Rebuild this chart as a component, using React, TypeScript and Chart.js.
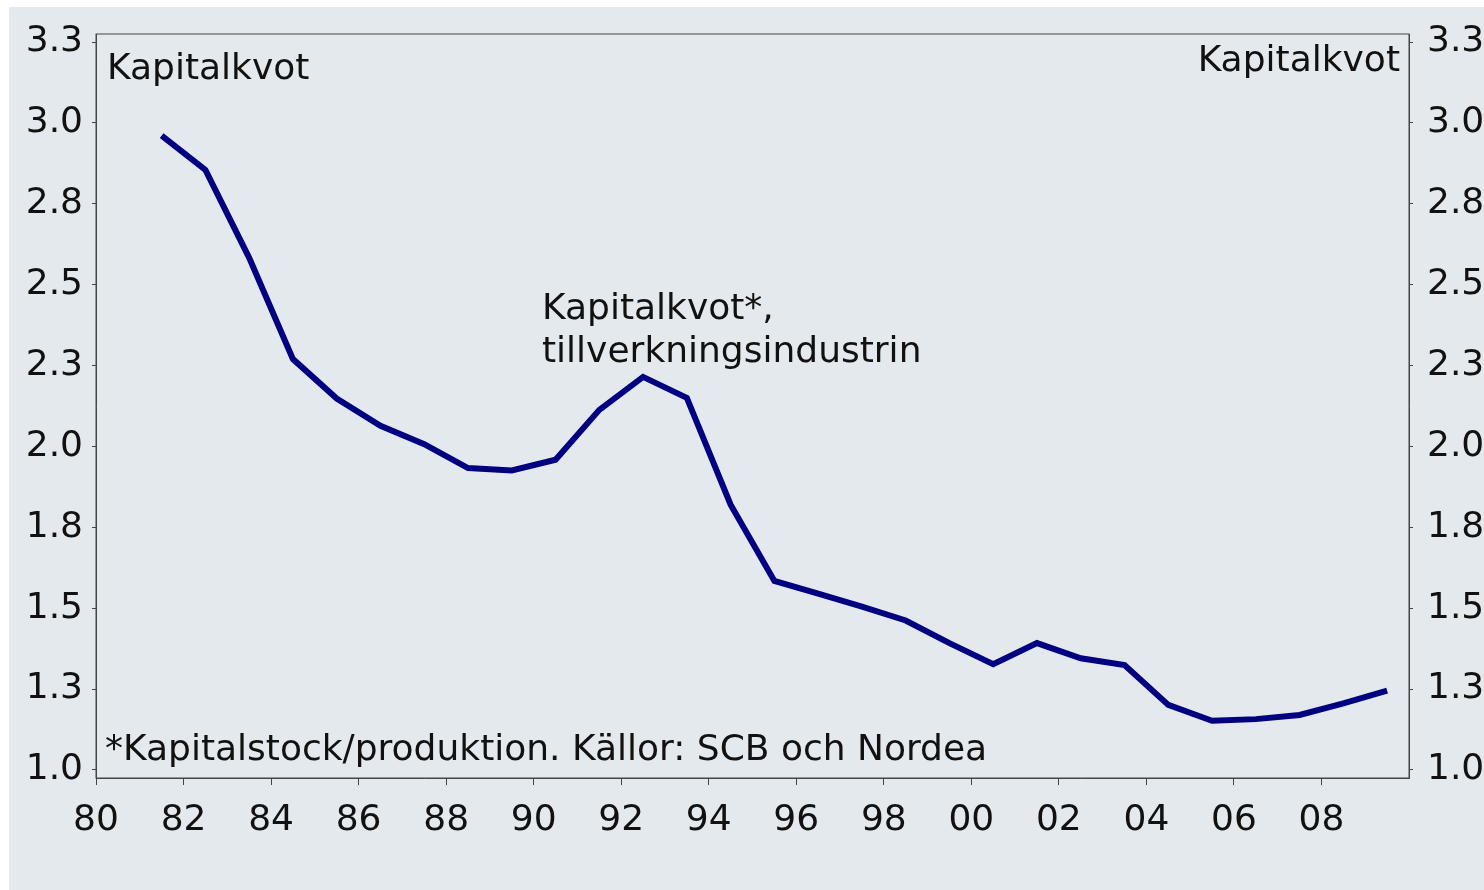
import React, { useEffect, useRef } from "react";
import { Chart, registerables } from "chart.js";

Chart.register(...registerables);

const years: number[] = [
  1981.5, 1982.5, 1983.5, 1984.5, 1985.5, 1986.5, 1987.5, 1988.5, 1989.5, 1990.5,
  1991.5, 1992.5, 1993.5, 1994.5, 1995.5, 1996.5, 1997.5, 1998.5, 1999.5, 2000.5,
  2001.5, 2002.5, 2003.5, 2004.5, 2005.5, 2006.5, 2007.5, 2008.5, 2009.5,
];
const kapitalkvot: number[] = [
  2.961, 2.855, 2.583, 2.270, 2.148, 2.064, 2.007, 1.933, 1.926, 1.959,
  2.113, 2.215, 2.150, 1.820, 1.584, 1.545, 1.505, 1.462, 1.392, 1.327,
  1.392, 1.345, 1.324, 1.201, 1.152, 1.157, 1.170, 1.206, 1.245,
];
const yTicks: number[] = [1.0, 1.25, 1.5, 1.75, 2.0, 2.25, 2.5, 2.75, 3.0, 3.25];
const xTicks: number[] = [1980, 1982, 1984, 1986, 1988, 1990, 1992, 1994, 1996, 1998, 2000, 2002, 2004, 2006, 2008];

const leftTitle = "Kapitalkvot";
const rightTitle = "Kapitalkvot";
const annotationLines = ["Kapitalkvot*,", "tillverkningsindustrin"];
const footnote = "*Kapitalstock/produktion. Källor: SCB och Nordea";

const FONT = "DejaVu Sans, Verdana, sans-serif";
const FS = 36;
const BG = "#e4e9ee";
const AXIS = "#444444";

const textPlugin = {
  id: "texts",
  afterDraw(chart: any) {
    const { ctx, chartArea } = chart;
    const { left, right, top, bottom } = chartArea;
    ctx.save();
    ctx.strokeStyle = AXIS;
    ctx.lineWidth = 1;
    ctx.strokeRect(left, top, right - left, bottom - top);
    ctx.fillStyle = "#111111";
    ctx.font = `${FS}px ${FONT}`;
    ctx.textBaseline = "alphabetic";
    ctx.textAlign = "left";
    ctx.fillText(leftTitle, left + 11, top + 45);
    ctx.fillText(annotationLines[0], left + 446, top + 285);
    ctx.fillText(annotationLines[1], left + 446, top + 328);
    ctx.fillText(footnote, left + 9, bottom - 18);
    ctx.textAlign = "right";
    ctx.fillText(rightTitle, right - 9, top + 37);
    ctx.restore();
  },
};

export default function App() {
  const ref = useRef<HTMLCanvasElement>(null);
  useEffect(() => {
    if (!ref.current) return;
    const yAxisCommon = (position: "left" | "right", width: number, pad: number) => ({
      type: "linear" as const,
      position,
      min: 0.975,
      max: 3.275,
      afterBuildTicks: (axis: any) => {
        axis.ticks = yTicks.map((v) => ({ value: v }));
      },
      afterFit: (axis: any) => {
        axis.width = width;
      },
      border: { display: true, color: AXIS, width: 1 },
      grid: { display: true, drawOnChartArea: false, drawTicks: true, tickLength: 4, color: AXIS },
      ticks: {
        color: "#111111",
        font: { family: FONT, size: FS, lineHeight: 0.5 },
        padding: pad,
        callback: (v: any) => Number(v).toFixed(1),
      },
    });
    const chart = new Chart(ref.current, {
      type: "line",
      data: {
        datasets: [
          {
            data: years.map((x, i) => ({ x, y: kapitalkvot[i] })),
            borderColor: "#000080",
            borderWidth: 6,
            pointRadius: 0,
            tension: 0,
            fill: false,
            yAxisID: "y",
          },
        ],
      },
      options: {
        animation: false,
        responsive: false,
        layout: { padding: { top: 27, left: 0, right: 0, bottom: 0 } },
        plugins: { legend: { display: false }, tooltip: { enabled: false }, title: { display: false } },
        scales: {
          x: {
            type: "linear",
            min: 1980,
            max: 2010,
            afterBuildTicks: (axis: any) => {
              axis.ticks = xTicks.map((v) => ({ value: v }));
            },
            afterFit: (axis: any) => {
              axis.height = 112;
            },
            border: { display: true, color: AXIS, width: 1 },
            grid: { display: true, drawOnChartArea: false, drawTicks: true, tickLength: 7, color: AXIS },
            ticks: {
              color: "#111111",
              font: { family: FONT, size: FS },
              padding: 14,
              maxRotation: 0,
              autoSkip: false,
              callback: (v: any) => String(Math.round(Number(v)) % 100).padStart(2, "0"),
            },
          },
          y: yAxisCommon("left", 87, 9),
          y2: yAxisCommon("right", 75, 14),
        },
      },
      plugins: [textPlugin],
    } as any);
    return () => chart.destroy();
  }, []);
  return (
    <div style={{ position: "fixed", left: 9, top: 7, width: 1475, height: 883, background: BG }}>
      <canvas ref={ref} width={1475} height={883} style={{ display: "block" }} />
    </div>
  );
}
